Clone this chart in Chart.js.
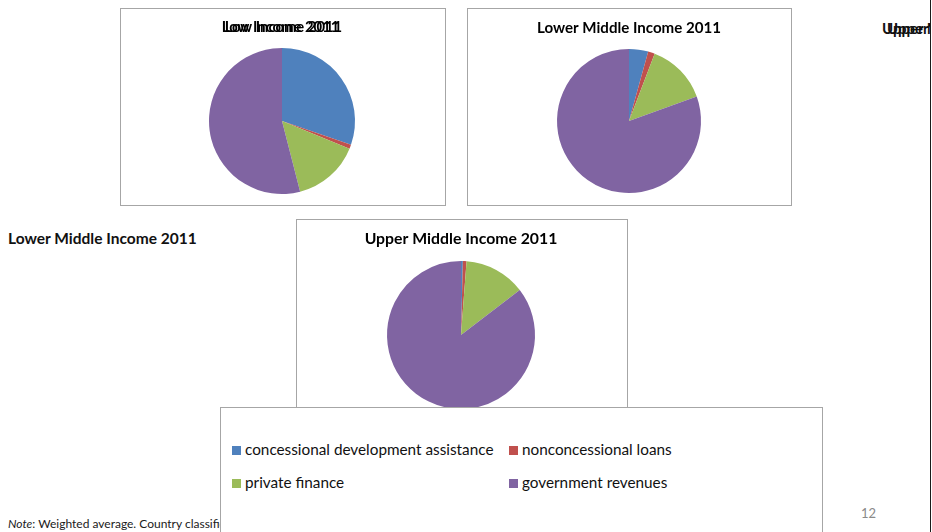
<!DOCTYPE html>
<html>
<head>
<meta charset="utf-8">
<script src="https://cdn.jsdelivr.net/npm/chart.js@4/dist/chart.umd.min.js"></script>
<style>
  html, body { margin: 0; padding: 0; background: #fff; }
  body { width: 932px; height: 532px; position: relative; overflow: hidden; font-family: Lato, "Open Sans", sans-serif; color: #111; }
  .box { position: absolute; border: 1px solid #a6a6a6; background: #fff; box-sizing: border-box; }
  .box canvas { position: absolute; left: 0; top: 0; }
  .stray { position: absolute; font-weight: bold; white-space: nowrap; }
  #legend { position: absolute; left: 220px; top: 407px; width: 603px; height: 140px; border: 1px solid #a6a6a6; background: #fff; box-sizing: border-box; }
  .li { position: absolute; font-size: 15.3px; white-space: nowrap; line-height: 16px; }
  .li span.sw { display: inline-block; width: 9px; height: 9px; margin-right: 4px; vertical-align: 0px; }
  #edge { position: absolute; left: 930px; top: 0; width: 1px; height: 532px; background: #1a1a1a; }
  #note { position: absolute; left: 8px; top: 516px; font-size: 12px; white-space: nowrap; color: #1a1a1a; }
  #page { position: absolute; left: 861px; top: 505px; font-size: 13px; color: #8a8a8a; }
</style>
</head>
<body>

<div id="clipTR" style="position:absolute;left:860px;top:0;width:70px;height:60px;overflow:hidden;"></div>
<div class="stray" style="left:8px;top:229px;font-size:15.5px;">Lower Middle Income 2011</div>

<div class="box" id="b1" style="left:120px;top:8px;width:326px;height:198px;"><canvas id="c1"></canvas></div>
<div class="box" id="b2" style="left:467px;top:8px;width:325px;height:198px;"><canvas id="c2"></canvas></div>
<div class="box" id="b3" style="left:296px;top:219px;width:332px;height:215px;"><canvas id="c3"></canvas></div>

<div id="note"><i>Note</i>: Weighted average. Country classifications follow World Bank income groups.</div>
<div id="legend"></div>
<div id="page">12</div>
<div id="edge"></div>

<script>
// Sources of development finance by income group, shares in percent
const categories = ['concessional development assistance', 'nonconcessional loans', 'private finance', 'government revenues'];
const lowIncome = [30.3, 0.9, 14.8, 54.0];
const lowerMiddleIncome = [4.3, 1.5, 13.7, 80.5];
const upperMiddleIncome = [0.4, 0.8, 13.4, 85.4];
const titles = ['Low Income 2011', 'Lower Middle Income 2011', 'Upper Middle Income 2011'];

const palette = ['#4F81BD', '#C0504D', '#9BBB59', '#8064A2'];

// Draws the chart heading centred over the pie; 'echo' repeats it shifted sideways
const headingPlugin = {
  id: 'heading',
  afterDraw(chart, args, opts) {
    const ctx = chart.ctx;
    ctx.save();
    ctx.font = 'bold ' + opts.size + 'px Lato, "Open Sans", sans-serif';
    ctx.fillStyle = '#000';
    ctx.textAlign = 'center';
    ctx.textBaseline = 'alphabetic';
    const cx = (chart.chartArea.left + chart.chartArea.right) / 2;
    (opts.echo || [0]).forEach(dx => ctx.fillText(opts.text, cx + dx, opts.y));
    ctx.restore();
  }
};

function makePie(canvasId, w, h, values, pad, heading) {
  const cv = document.getElementById(canvasId);
  cv.width = w; cv.height = h;
  cv.style.width = w + 'px'; cv.style.height = h + 'px';
  return new Chart(cv, {
    type: 'pie',
    data: {
      labels: categories,
      datasets: [{
        data: values,
        backgroundColor: palette,
        borderWidth: 0,
        hoverOffset: 0
      }]
    },
    options: {
      responsive: false,
      animation: false,
      events: [],
      layout: { padding: pad },
      plugins: {
        legend: { display: false },
        tooltip: { enabled: false },
        title: { display: false },
        heading: heading
      }
    },
    plugins: [headingPlugin]
  });
}

makePie('c1', 324, 196, lowIncome, { left: 88, right: 90, top: 39, bottom: 11 },
  { text: titles[0], y: 23, size: 14.8, echo: [-1.4, 1.4] });
makePie('c2', 323, 196, lowerMiddleIncome, { left: 89, right: 90, top: 40, bottom: 12 },
  { text: titles[1], y: 23.5, size: 15.1 });
makePie('c3', 330, 213, upperMiddleIncome, { left: 90, right: 92, top: 41, bottom: 24 },
  { text: titles[2], y: 23.5, size: 15.8 });

// Partly hidden heading of the next panel, cut off at the slide edge
const tr = document.getElementById('clipTR');
[22, 27].forEach(x => {
  const d = document.createElement('div');
  d.className = 'stray';
  d.style.left = x + 'px';
  d.style.top = '19px';
  d.style.fontSize = '15px';
  d.textContent = titles[2];
  tr.appendChild(d);
});

// Shared legend for the three pies
const lg = document.getElementById('legend');
categories.forEach((name, i) => {
  const it = document.createElement('div');
  it.className = 'li';
  it.style.left = (11 + (i % 2) * 277) + 'px';
  it.style.top = (33 + Math.floor(i / 2) * 33) + 'px';
  it.innerHTML = '<span class="sw" style="background:' + palette[i] + '"></span>' + name;
  lg.appendChild(it);
});
</script>
</body>
</html>
